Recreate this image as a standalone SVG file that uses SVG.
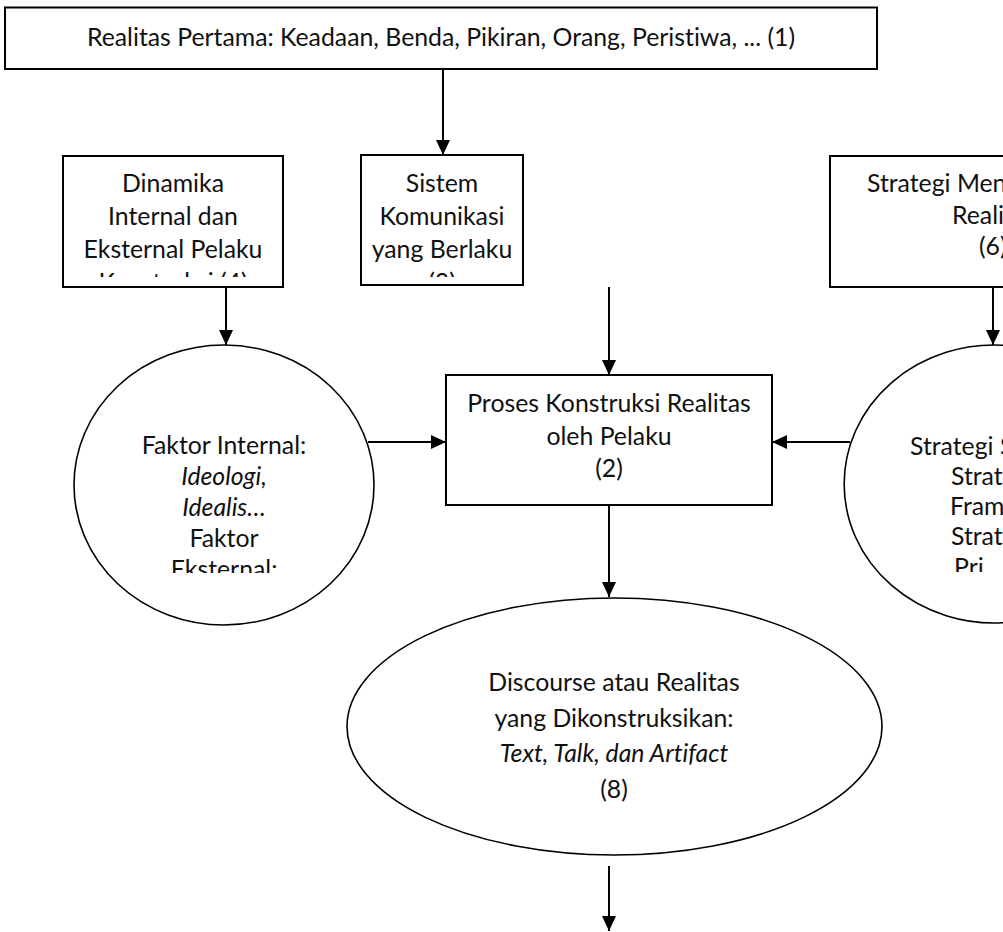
<svg xmlns="http://www.w3.org/2000/svg" width="1003" height="932" viewBox="0 0 1003 932">
<style>
  .box { fill: #fff; stroke: #000; stroke-width: 2; }
  .shape { fill: #fff; stroke: #000; stroke-width: 1.6; }
  .t { font-family: Lato, "Liberation Sans", sans-serif; font-size: 24.8px; fill: #111; text-anchor: middle; font-variant-ligatures: none; }
  .s { text-anchor: start; }
  .i { font-style: italic; }
  .conn { stroke: #000; stroke-width: 2; fill: none; marker-end: url(#ah); }
</style>
<defs>
  <marker id="ah" markerWidth="15" markerHeight="14" refX="15" refY="7" orient="auto" markerUnits="userSpaceOnUse">
    <path d="M0,0 L15,7 L0,14 z" fill="#000"/>
  </marker>
  <clipPath id="clipDin"><rect x="63" y="156" width="220" height="121"/></clipPath>
  <clipPath id="clipSis"><rect x="361" y="155" width="162" height="122"/></clipPath>
  <clipPath id="clipFak"><rect x="74" y="345" width="300" height="228"/></clipPath>
  <clipPath id="clipStr"><rect x="843" y="345" width="160" height="227"/></clipPath>
</defs>
<rect width="1003" height="932" fill="#fff"/>

<g id="connectors">
  <path class="conn" d="M443,69 V155"/>
  <path class="conn" d="M226,287 V345"/>
  <path class="conn" d="M609,287 V375"/>
  <path class="conn" d="M993,287 V345"/>
  <path class="conn" d="M368,442 H446"/>
  <path class="conn" d="M850,442 H772"/>
  <path class="conn" d="M609,505 V597"/>
  <path class="conn" d="M609,866 V931"/>
</g>

<g id="node-realitas-pertama">
  <rect class="box" x="5" y="7.5" width="872" height="61.5"/>
  <text class="t" x="441" y="46">Realitas Pertama: Keadaan, Benda, Pikiran, Orang, Peristiwa, ... (1)</text>
</g>

<g id="node-dinamika">
  <rect class="box" x="63" y="156" width="220" height="131"/>
  <g clip-path="url(#clipDin)">
    <text class="t" x="173" y="192">Dinamika</text>
    <text class="t" x="173" y="225">Internal dan</text>
    <text class="t" x="173" y="258">Eksternal Pelaku</text>
    <text class="t" x="173" y="291">Konstruksi (4)</text>
  </g>
</g>

<g id="node-sistem">
  <rect class="box" x="361" y="155" width="162" height="130"/>
  <g clip-path="url(#clipSis)">
    <text class="t" x="442" y="192">Sistem</text>
    <text class="t" x="442" y="225">Komunikasi</text>
    <text class="t" x="442" y="258">yang Berlaku</text>
    <text class="t" x="442" y="291">(3)</text>
  </g>
</g>

<g id="node-strategi-box">
  <path class="box" d="M1004,156 H830 V287 H1004"/>
  <text class="t s" x="867" y="192">Strategi Men</text>
  <text class="t s" x="952" y="223.5">Reali</text>
  <text class="t s" x="979" y="255">(6)</text>
</g>

<g id="node-faktor">
  <ellipse class="shape" cx="224" cy="485" rx="150" ry="140"/>
  <g clip-path="url(#clipFak)">
    <text class="t" x="224" y="454">Faktor Internal:</text>
    <text class="t i" x="224" y="485">Ideologi,</text>
    <text class="t i" x="224" y="516">Idealis…</text>
    <text class="t" x="224" y="547">Faktor</text>
    <text class="t" x="224" y="578">Eksternal:</text>
  </g>
</g>

<g id="node-proses">
  <rect class="box" x="446" y="375" width="326" height="130"/>
  <text class="t" x="609" y="412">Proses Konstruksi Realitas</text>
  <text class="t" x="609" y="444.5">oleh Pelaku</text>
  <text class="t" x="609" y="477">(2)</text>
</g>

<g id="node-strategi-circle">
  <path class="shape" d="M1004,345.3 A150,139 0 1 0 1004,622.7"/>
  <g clip-path="url(#clipStr)">
    <text class="t s" x="910" y="455">Strategi S</text>
    <text class="t s" x="951" y="485">Strat</text>
    <text class="t s" x="950" y="515">Fram</text>
    <text class="t s" x="951" y="545">Strat</text>
    <text class="t s" x="954" y="576">Pri</text>
  </g>
</g>

<g id="node-discourse">
  <ellipse class="shape" cx="614.5" cy="726.5" rx="267.5" ry="128.5"/>
  <text class="t" x="614" y="691">Discourse atau Realitas</text>
  <text class="t" x="614" y="727">yang Dikonstruksikan:</text>
  <text class="t i" x="614" y="762">Text, Talk, dan Artifact</text>
  <text class="t" x="614" y="798">(8)</text>
</g>
</svg>
